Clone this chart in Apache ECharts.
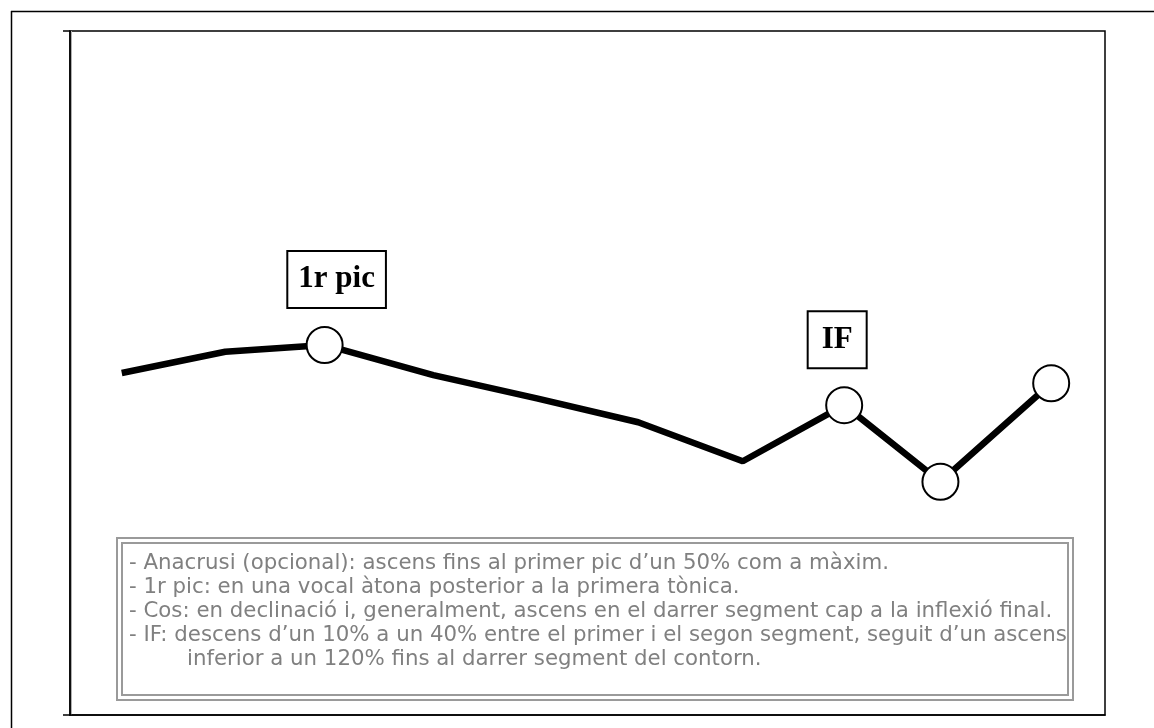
<!DOCTYPE html>
<html>
<head>
<meta charset="utf-8">
<script src="https://cdn.jsdelivr.net/npm/echarts@6/dist/echarts.min.js"></script>
<style>
html,body{margin:0;padding:0;background:#fff;}
#chart{width:1154px;height:728px;}
</style>
</head>
<body>
<div id="chart"></div>
<script>
// ---- data ----
var timeValues = [5.0, 15.0, 24.6, 35.1, 45.1, 54.9, 65.0, 74.8, 84.1, 94.8];
var pitchValues = [50, 53.1, 54.1, 49.7, 46.3, 42.8, 37.1, 45.3, 34.1, 48.5];
var markedIndex = [2, 7, 8, 9];
var peakLabels = { 2: '1r pic', 7: 'IF' };
var noteLines = [
  '- Anacrusi (opcional): ascens fins al primer pic d\u2019un 50% com a màxim.',
  '- 1r pic: en una vocal àtona posterior a la primera tònica.',
  '- Cos: en declinació i, generalment, ascens en el darrer segment cap a la inflexió final.',
  '- IF: descens d\u2019un 10% a un 40% entre el primer i el segon segment, seguit d\u2019un ascens',
  'inferior a un 120% fins al darrer segment del contorn.'
];
var noteIndent = [0, 0, 0, 0, 1];

// ---- build ----
var labelStyles = {
  '1r pic': { padding: [10, 10, 10, 10], offset: [12, 0] },
  'IF': { padding: [10, 13, 10, 13], offset: [-7, 0] }
};
var seriesData = pitchValues.map(function (v, i) {
  var item = { value: [timeValues[i], v] };
  if (markedIndex.indexOf(i) < 0) {
    item.symbol = 'none';
  }
  if (peakLabels[i]) {
    var st = labelStyles[peakLabels[i]];
    item.label = {
      show: true,
      position: 'top',
      distance: 19,
      formatter: peakLabels[i],
      fontFamily: '"Liberation Serif", "Times New Roman", serif',
      fontWeight: 'bold',
      fontSize: 31,
      lineHeight: 35,
      color: '#000',
      backgroundColor: '#fff',
      borderColor: '#000',
      borderWidth: 2,
      padding: st.padding,
      offset: st.offset
    };
  }
  return item;
});

var noteX = 129, noteIndentX = 187, noteY0 = 563, noteStep = 24;
var graphics = [
  { type: 'line', shape: { x1: 11.5, y1: 11, x2: 11.5, y2: 728 }, style: { stroke: '#000', lineWidth: 1.5 } },
  { type: 'line', shape: { x1: 11, y1: 11.5, x2: 1154, y2: 11.5 }, style: { stroke: '#000', lineWidth: 1.5 } },
  { type: 'line', shape: { x1: 71.5, y1: 31, x2: 71.5, y2: 715 }, style: { stroke: '#b0b0b0', lineWidth: 1 } },
  { type: 'rect', shape: { x: 117, y: 538, width: 956, height: 162 }, style: { fill: '#fff', stroke: '#9a9a9a', lineWidth: 2 }, z: 10 },
  { type: 'rect', shape: { x: 122, y: 543, width: 946, height: 152 }, style: { fill: 'none', stroke: '#9a9a9a', lineWidth: 2 }, z: 10 }
];
noteLines.forEach(function (t, i) {
  graphics.push({
    type: 'text', z: 11,
    x: noteIndent[i] ? noteIndentX : noteX,
    y: noteY0 + i * noteStep,
    style: {
      text: t, fill: '#808080',
      font: '21.3px "DejaVu Sans", sans-serif',
      textVerticalAlign: 'middle', verticalAlign: 'middle'
    }
  });
});

var chart = echarts.init(document.getElementById('chart'), null, { renderer: 'canvas' });
chart.setOption({
  animation: false,
  backgroundColor: '#fff',
  grid: { left: 70, right: 49, top: 31, bottom: 13, show: true, borderColor: '#000', borderWidth: 1.5, backgroundColor: 'transparent' },
  xAxis: {
    type: 'value', min: 0, max: 100,
    axisLine: { show: true, lineStyle: { color: '#000', width: 1.5 } },
    axisTick: { show: false }, axisLabel: { show: false }, splitLine: { show: false }
  },
  yAxis: {
    type: 'value', min: 0, max: 100, interval: 100,
    axisLine: { show: true, lineStyle: { color: '#000', width: 1.5 } },
    axisTick: { show: true, length: 7, lineStyle: { color: '#000', width: 1.5 } },
    axisLabel: { show: false }, splitLine: { show: false }
  },
  series: [{
    type: 'line',
    data: seriesData,
    showAllSymbol: true,
    symbol: 'circle',
    symbolSize: 36,
    itemStyle: { color: '#fff', borderColor: '#000', borderWidth: 2 },
    lineStyle: { color: '#000', width: 6.5 },
    z: 5
  }],
  graphic: graphics
});
</script>
</body>
</html>
